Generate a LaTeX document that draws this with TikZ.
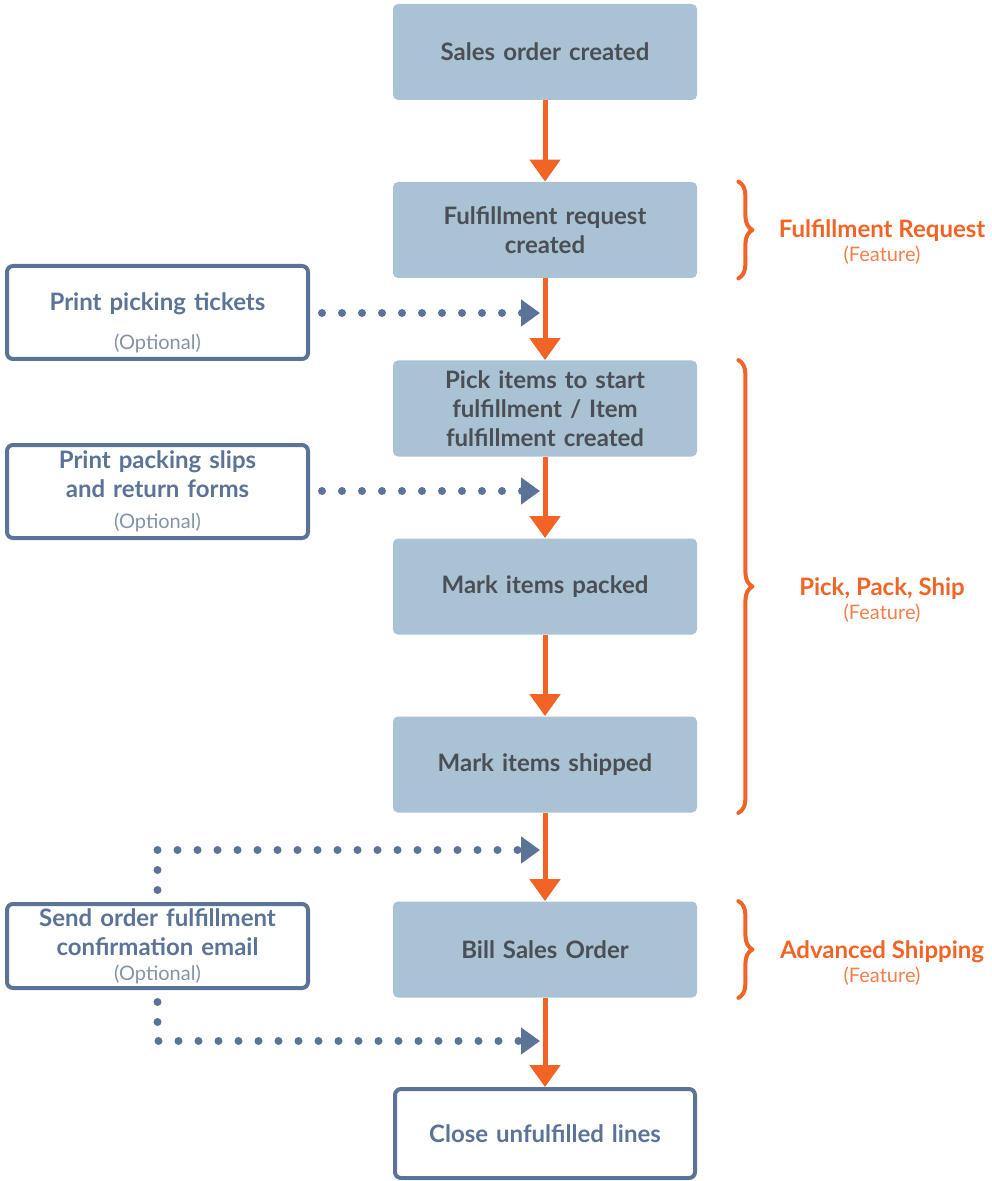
\documentclass[tikz,border=0pt]{standalone}
\usepackage{fontspec}
\setmainfont{Lato}
\usetikzlibrary{arrows.meta,decorations.pathreplacing}

\definecolor{boxblue}{HTML}{A9C2D4}
\definecolor{boxtext}{HTML}{4B4F55}
\definecolor{flow}{HTML}{F26426}
\definecolor{optblue}{HTML}{5B7397}
\definecolor{optgrey}{HTML}{8393AB}
\definecolor{featlight}{HTML}{F47E4C}

\newcommand\optnote{{\fontsize{10}{10}\selectfont\mdseries\color{optgrey}(Optional)}}
\newcommand\featnote{{\fontsize{10}{10}\selectfont\mdseries\color{featlight}(Feature)}}

\begin{document}
\begin{tikzpicture}[x=0.5pt, y=-0.5pt, line join=round,
  mainbox/.style={fill=boxblue, rounded corners=2.5pt, minimum width=152pt, minimum height=48pt,
    text width=146pt, align=center, inner sep=0pt, text=boxtext,
    font=\fontsize{12}{14.5}\selectfont\bfseries},
  endbox/.style={mainbox, fill=white, draw=optblue, line width=2pt, rounded corners=3pt,
    minimum width=150pt, minimum height=44.5pt, text=optblue},
  optbox/.style={draw=optblue, line width=2pt, rounded corners=3pt, minimum width=150.5pt,
    minimum height=46.5pt, text width=146pt, align=center, inner sep=0pt, text=optblue,
    font=\fontsize{12}{14.5}\selectfont\bfseries},
  flowarrow/.style={draw=flow, line width=2.5pt, -{Triangle[length=11pt,width=15pt]}},
  optarrow/.style={draw=optblue, line width=4pt, line cap=round, dash pattern=on 0pt off 10pt,
    -{Triangle[length=9.5pt,width=13pt]}, shorten <=6pt},
  featbrace/.style={draw=flow, line width=2pt, line cap=round, decorate,
    decoration={brace, amplitude=7pt}},
  feat/.style={text=flow, align=center, font=\fontsize{12}{12}\selectfont\bfseries}]
\useasboundingbox (0,0) rectangle (991,1181);

% main flow
\node[mainbox] (order)   at (545,52)    {Sales order created};
\node[mainbox] (request) at (545,230)   {Fulfillment request\\created};
\node[mainbox] (pick)    at (545,408.5) {Pick items to start\\fulfillment / Item\\fulfillment created};
\node[mainbox] (packed)  at (545,586.5) {Mark items packed};
\node[mainbox] (shipped) at (545,764.5) {Mark items shipped};
\node[mainbox] (bill)    at (545,949.5) {Bill Sales Order};
\node[endbox]  (close)   at (545,1133.5) {Close unfulfilled lines};

\draw[flowarrow] (order) -- (request);
\draw[flowarrow] (request) -- (pick);
\draw[flowarrow] (pick) -- (packed);
\draw[flowarrow] (packed) -- (shipped);
\draw[flowarrow] (shipped) -- (bill);
\draw[flowarrow] (bill) -- (close);

% optional steps
\node[optbox] (tickets) at (157.5,312.5) {\mbox{}\\[4.5pt]Print picking tickets\\[5pt]\optnote};
\node[optbox] (slips)   at (157.5,491.5) {Print packing slips\\and return forms\\[1pt]\optnote};
\node[optbox, minimum height=42pt] (email) at (157.5,946) {Send order fulfillment\\confirmation email\\[-2pt]\optnote};

\coordinate (j1) at (540,313);
\coordinate (j2) at (540,491);
\coordinate (j3) at (540,850);
\coordinate (j4) at (540,1041);

\draw[optarrow] (tickets.east |- j1) -- (j1);
\draw[optarrow] (slips.east |- j2) -- (j2);
\draw[optarrow] (email.north) |- (j3);
\draw[optarrow] (email.south) |- (j4);

% features
\draw[featbrace] ([xshift=20.5pt]request.north east) -- ([xshift=20.5pt]request.south east);
\draw[featbrace] ([xshift=20.5pt]pick.north east) -- ([xshift=20.5pt]shipped.south east);
\draw[featbrace] ([xshift=20.5pt]bill.north east) -- ([xshift=20.5pt]bill.south east);

\node[feat] (frfeat)   at (882,242) {Fulfillment Request\\\featnote};
\node[feat] (ppsfeat)  at (882,600) {Pick, Pack, Ship\\\featnote};
\node[feat] (shipfeat) at (882,963) {Advanced Shipping\\\featnote};
\end{tikzpicture}
\end{document}
